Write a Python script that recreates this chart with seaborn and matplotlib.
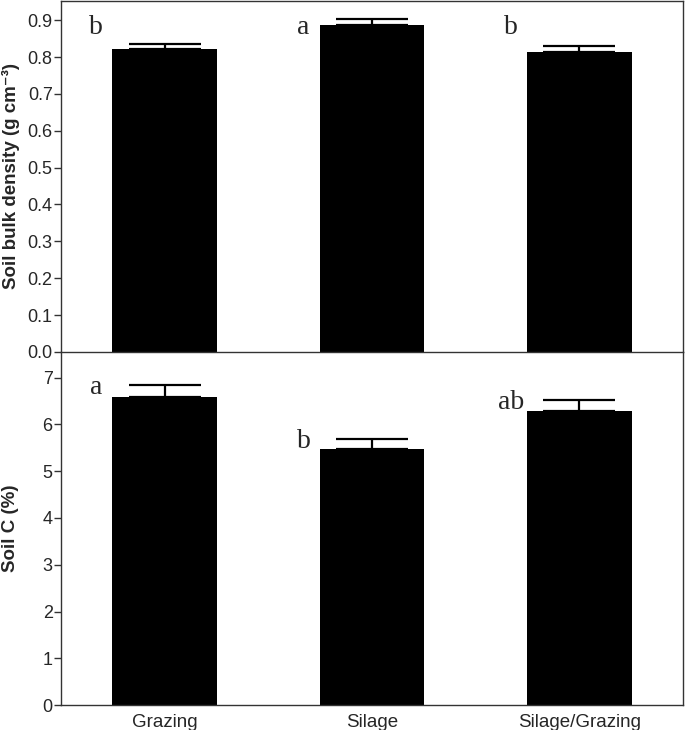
import matplotlib
matplotlib.use('Agg')
import numpy as np
import pandas as pd
import matplotlib.pyplot as plt
import seaborn as sns

# --- data ---
systems = ["Grazing", "Silage", "Silage/Grazing"]
bulk_density = [0.822, 0.888, 0.814]
bulk_density_se = [0.014, 0.015, 0.016]
bulk_letters = ["b", "a", "b"]
soil_c = [6.59, 5.47, 6.29]
soil_c_se = [0.25, 0.22, 0.23]
soil_c_letters = ["a", "b", "ab"]

sns.set_style("ticks")
plt.rcParams['font.family'] = ['Liberation Sans', 'DejaVu Sans']

df = pd.DataFrame({"system": systems, "bd": bulk_density, "c": soil_c})

fig = plt.figure(figsize=(6.85, 7.30), dpi=100)
ax1 = fig.add_axes([0.089, 0.518, 0.908, 0.4805])
ax2 = fig.add_axes([0.089, 0.034, 0.908, 0.484])

panels = [
    (ax1, "bd", bulk_density_se, bulk_letters, "Soil bulk density (g cm\u207b\u00b3)",
     (0, 0.952), np.arange(0, 0.91, 0.1), "%.1f"),
    (ax2, "c", soil_c_se, soil_c_letters, "Soil C (%)",
     (0, 7.55), np.arange(0, 8, 1), "%d"),
]

for ax, col, se, letters, ylabel, ylim, ticks, fmt in panels:
    sns.barplot(data=df, x="system", y=col, color="black", width=0.505,
                errorbar=None, saturation=1, ax=ax, edgecolor="none")
    x = np.arange(len(systems))
    ax.errorbar(x, df[col], yerr=[np.zeros(len(se)), se], fmt="none",
                ecolor="black", elinewidth=1.6, capsize=26, capthick=1.6)
    ax.set_xlim(-0.5, 2.5)
    ax.set_ylim(*ylim)
    ax.set_yticks(ticks)
    ax.set_yticklabels([fmt % t for t in ticks])
    ax.set_ylabel(ylabel, fontsize=13.5, fontweight="bold", va="center")
    ax.yaxis.set_label_coords(-0.081, 0.5)
    ax.set_xlabel("")
    for s in ax.spines.values():
        s.set_visible(True)
        s.set_color("#333333")
        s.set_linewidth(1.0)
    ax.tick_params(axis="y", direction="out", length=5, width=1.0,
                   labelsize=13, pad=1, color="#333333")
    # significance letters
    for i, (v, e, lab) in enumerate(zip(df[col], se, letters)):
        if ax is ax1:
            ty = 0.88
        else:
            ty = v + e - 0.05
        ax.text(i - 0.33, ty, lab, family="Liberation Serif", fontsize=20,
                ha="center", va="center")

ax1.set_xticks([])
ax1.spines["bottom"].set_visible(False)
ax2.spines["top"].set_visible(True)
ax2.tick_params(axis="x", length=0, labelsize=13.5, pad=6)

fig.savefig("out.png", dpi=100)
